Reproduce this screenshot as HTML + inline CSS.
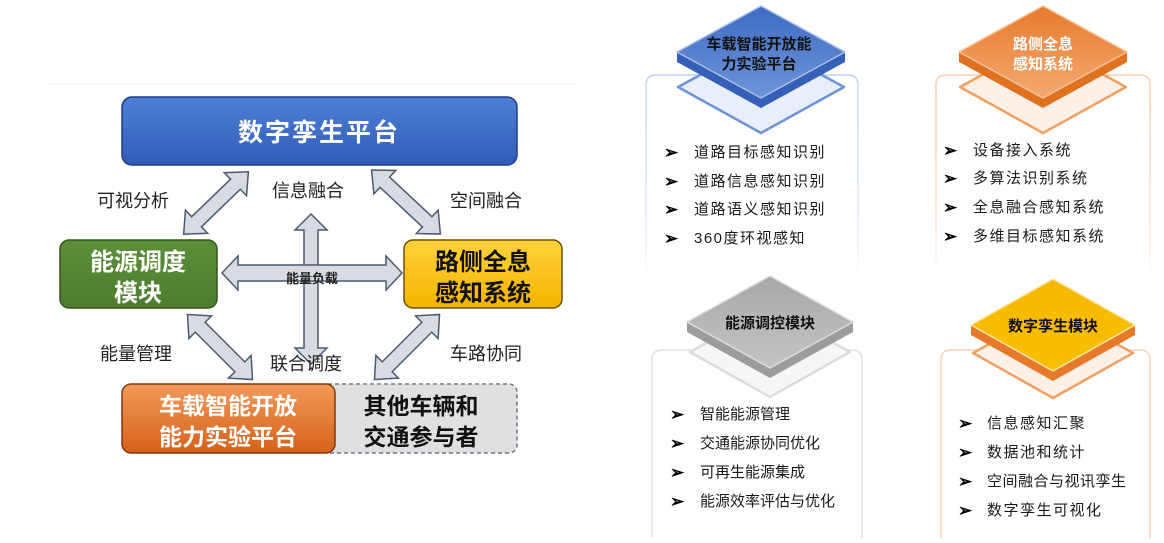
<!DOCTYPE html>
<html><head><meta charset="utf-8"><style>
html,body{margin:0;padding:0;background:#fff;}
body{width:1164px;height:538px;overflow:hidden;font-family:"Liberation Sans","Noto Sans CJK SC",sans-serif;}
</style></head><body>
<svg width="1164" height="538" viewBox="0 0 1164 538" xmlns="http://www.w3.org/2000/svg" font-family="'Liberation Sans','Noto Sans CJK SC',sans-serif">
<defs>
<linearGradient id="gb" x1="0" y1="0" x2="0" y2="1"><stop offset="0" stop-color="#4f7fd6"/><stop offset="1" stop-color="#2f5cb8"/></linearGradient>
<linearGradient id="gg" x1="0" y1="0" x2="0" y2="1"><stop offset="0" stop-color="#5c8f3a"/><stop offset="1" stop-color="#4d7c2e"/></linearGradient>
<linearGradient id="gy" x1="0" y1="0" x2="0" y2="1"><stop offset="0" stop-color="#ffd23a"/><stop offset="1" stop-color="#f4b400"/></linearGradient>
<linearGradient id="go" x1="0" y1="0" x2="0" y2="1"><stop offset="0" stop-color="#f29a5a"/><stop offset="1" stop-color="#d5611a"/></linearGradient>
<linearGradient id="d1" x1="0" y1="0" x2="0" y2="1"><stop offset="0" stop-color="#3e6cc4"/><stop offset="1" stop-color="#6e93d8"/></linearGradient>
<linearGradient id="d2" x1="0" y1="0" x2="0" y2="1"><stop offset="0" stop-color="#e87a2c"/><stop offset="1" stop-color="#f3aa72"/></linearGradient>
<linearGradient id="d3" x1="0" y1="0" x2="0" y2="1"><stop offset="0" stop-color="#a8a8a8"/><stop offset="1" stop-color="#c4c4c4"/></linearGradient>
<linearGradient id="d4" x1="0" y1="0" x2="0" y2="1"><stop offset="0" stop-color="#f6b800"/><stop offset="1" stop-color="#f9c000"/></linearGradient>
<linearGradient id="sb" x1="0" y1="0" x2="0" y2="1"><stop offset="0" stop-color="#c3d3f0"/><stop offset="0.7" stop-color="#e6edf9"/><stop offset="1" stop-color="#ffffff"/></linearGradient>
<linearGradient id="so" x1="0" y1="0" x2="0" y2="1"><stop offset="0" stop-color="#f8cfb0"/><stop offset="0.7" stop-color="#fbe6d6"/><stop offset="1" stop-color="#ffffff"/></linearGradient>
</defs>

<line x1="50" y1="84" x2="575" y2="84" stroke="#f6f6f6" stroke-width="1.5"/>

<!-- arrows -->
<g fill="#d8dce2" stroke="#4b5a6e" stroke-width="1.5">
<polygon points="-75,0 -59,-16 -59,-7 59,-7 59,-16 75,0 59,16 59,7 -59,7 -59,16" transform="translate(311,289) rotate(90)"/>
<polygon points="-90,0 -74,-17 -74,-8 74,-8 74,-17 90,0 74,17 74,8 -74,8 -74,17" transform="translate(312,273)"/>
<polygon points="-45,0 -27,-16 -27,-7 27,-7 27,-16 45,0 27,16 27,7 -27,7 -27,16" transform="translate(216,203) rotate(-44)"/>
<polygon points="-47,0 -29,-16 -29,-7 29,-7 29,-16 47,0 29,16 29,7 -29,7 -29,16" transform="translate(406,202) rotate(43)"/>
<polygon points="-46,0 -28,-16 -28,-7 28,-7 28,-16 46,0 28,16 28,7 -28,7 -28,16" transform="translate(220,347) rotate(45)"/>
<polygon points="-46,0 -28,-16 -28,-7 28,-7 28,-16 46,0 28,16 28,7 -28,7 -28,16" transform="translate(407,347) rotate(-45)"/>
</g>
<text x="312" y="283" font-size="13" font-weight="bold" text-anchor="middle" fill="#222">能量负载</text>

<!-- boxes -->
<rect x="122" y="97" width="395" height="68" rx="10" fill="url(#gb)" stroke="#1f3f80" stroke-width="1.5"/>
<text x="319" y="141" font-size="25" fill="#fff" text-anchor="middle" letter-spacing="2" font-weight="bold">数字孪生平台</text>
<rect x="60" y="240" width="157" height="68" rx="9" fill="url(#gg)" stroke="#35561e" stroke-width="1.5"/>
<text x="138" y="270" font-size="24" fill="#fff" text-anchor="middle" font-weight="bold">能源调度</text>
<text x="138" y="301" font-size="24" fill="#fff" text-anchor="middle" font-weight="bold">模块</text>
<rect x="404" y="240" width="158" height="68" rx="9" fill="url(#gy)" stroke="#6b5200" stroke-width="1.5"/>
<text x="483" y="270" font-size="24" fill="#111" text-anchor="middle" font-weight="bold">路侧全息</text>
<text x="483" y="301" font-size="24" fill="#111" text-anchor="middle" font-weight="bold">感知系统</text>
<rect x="320" y="384" width="197" height="69" rx="8" fill="#e0e0e0" stroke="#6d7a8c" stroke-width="1.5" stroke-dasharray="4,3"/>
<text x="421" y="414" font-size="23" fill="#111" text-anchor="middle" font-weight="bold">其他车辆和</text>
<text x="421" y="445" font-size="23" fill="#111" text-anchor="middle" font-weight="bold">交通参与者</text>
<rect x="122" y="384" width="213" height="69" rx="9" fill="url(#go)" stroke="#7a3a10" stroke-width="1.5"/>
<text x="228" y="414" font-size="23" fill="#fff" text-anchor="middle" font-weight="bold">车载智能开放</text>
<text x="228" y="445" font-size="23" fill="#fff" text-anchor="middle" font-weight="bold">能力实验平台</text>

<g font-size="18" fill="#222">
<text x="97" y="207">可视分析</text>
<text x="272" y="197">信息融合</text>
<text x="450" y="207">空间融合</text>
<text x="100" y="360">能量管理</text>
<text x="270" y="370">联合调度</text>
<text x="450" y="360">车路协同</text>
</g>

<!-- cards -->
<g fill="none" stroke-width="1.5">
<path d="M646,285 V85 Q646,75 656,75 H848 Q858,75 858,85 V285" stroke="url(#sb)"/>
<path d="M936,285 V85 Q936,75 946,75 H1140 Q1150,75 1150,85 V285" stroke="url(#so)"/>
<path d="M652,545 V360 Q652,350 662,350 H852 Q862,350 862,360 V545" stroke="#e3e3e3"/>
<path d="M941,545 V360 Q941,350 951,350 H1140 Q1150,350 1150,360 V545" stroke="#f8d3b8"/>
</g>

<!-- diamonds -->
<g transform="translate(761,52)" stroke-linejoin="round">
<polygon points="-83,35 0,-10 83,35 0,81" fill="#e8effa" stroke="#6d93d8" stroke-width="2.5"/>
<polygon points="-84,0 0,46 84,0 84,10 0,56 -84,10" fill="#3560b8"/>
<polygon points="-84,0 0,-46 84,0 0,46" fill="url(#d1)" stroke="#a9c0ea" stroke-width="1.5"/>
<text x="-2" y="-3" font-size="15" font-weight="bold" text-anchor="middle" fill="#111">车载智能开放能</text>
<text x="-2" y="17" font-size="15" font-weight="bold" text-anchor="middle" fill="#111">力实验平台</text>
</g>
<g transform="translate(1043,52)" stroke-linejoin="round">
<polygon points="-83,35 0,-10 83,35 0,81" fill="#fdf0e6" stroke="#f2a062" stroke-width="2.5"/>
<polygon points="-84,0 0,46 84,0 84,10 0,56 -84,10" fill="#e0711f"/>
<polygon points="-84,0 0,-46 84,0 0,46" fill="url(#d2)" stroke="#f6c29a" stroke-width="1.5"/>
<text x="0" y="-3" font-size="15" font-weight="bold" text-anchor="middle" fill="#fff">路侧全息</text>
<text x="0" y="17" font-size="15" font-weight="bold" text-anchor="middle" fill="#fff">感知系统</text>
</g>
<g transform="translate(770,322)" stroke-linejoin="round">
<polygon points="-80,30 0,-14 80,30 0,75" fill="#f6f6f6" stroke="#dcdcdc" stroke-width="2.5"/>
<polygon points="-83,0 0,46 83,0 83,10 0,56 -83,10" fill="#9c9c9c"/>
<polygon points="-83,0 0,-46 83,0 0,46" fill="url(#d3)" stroke="#dcdcdc" stroke-width="1.5"/>
<text x="0" y="6" font-size="15" font-weight="bold" text-anchor="middle" fill="#111">能源调控模块</text>
</g>
<g transform="translate(1053,325)" stroke-linejoin="round">
<polygon points="-80,28 0,-16 80,28 0,73" fill="#fdf0e6" stroke="#f2a062" stroke-width="2.5"/>
<polygon points="-82,0 0,46 82,0 82,10 0,56 -82,10" fill="#e77a2a"/>
<polygon points="-82,0 0,-46 82,0 0,46" fill="url(#d4)" stroke="#fbe7a8" stroke-width="1.5"/>
<text x="0" y="6" font-size="15" font-weight="bold" text-anchor="middle" fill="#111">数字孪生模块</text>
</g>

<!-- lists -->
<g font-size="15" fill="#1a1a1a" letter-spacing="1.5">
<g font-size="17" font-weight="bold" fill="#000"><text x="664" y="158">➢</text><text x="664" y="187">➢</text><text x="664" y="215">➢</text><text x="664" y="244">➢</text></g>
<text x="694" y="157">道路目标感知识别</text>
<text x="694" y="186">道路信息感知识别</text>
<text x="694" y="214">道路语义感知识别</text>
<text x="694" y="243">360度环视感知</text>
<g font-size="17" font-weight="bold" fill="#000"><text x="943" y="156">➢</text><text x="943" y="184">➢</text><text x="943" y="213">➢</text><text x="943" y="242">➢</text></g>
<text x="973" y="155">设备接入系统</text>
<text x="973" y="183">多算法识别系统</text>
<text x="973" y="212">全息融合感知系统</text>
<text x="973" y="241">多维目标感知系统</text>
<g font-size="17" font-weight="bold" fill="#000"><text x="670" y="420">➢</text><text x="670" y="449">➢</text><text x="670" y="478">➢</text><text x="670" y="507">➢</text></g>
<text x="700" y="419" letter-spacing="0">智能能源管理</text>
<text x="700" y="448" letter-spacing="0">交通能源协同优化</text>
<text x="700" y="477" letter-spacing="0">可再生能源集成</text>
<text x="700" y="506" letter-spacing="0">能源效率评估与优化</text>
<g font-size="17" font-weight="bold" fill="#000"><text x="958" y="429">➢</text><text x="958" y="458">➢</text><text x="958" y="487">➢</text><text x="958" y="516">➢</text></g>
<text x="987" y="428">信息感知汇聚</text>
<text x="987" y="457">数据池和统计</text>
<text x="987" y="486" letter-spacing="0.5">空间融合与视讯孪生</text>
<text x="987" y="515">数字孪生可视化</text>
</g>
</svg>
</body></html>
